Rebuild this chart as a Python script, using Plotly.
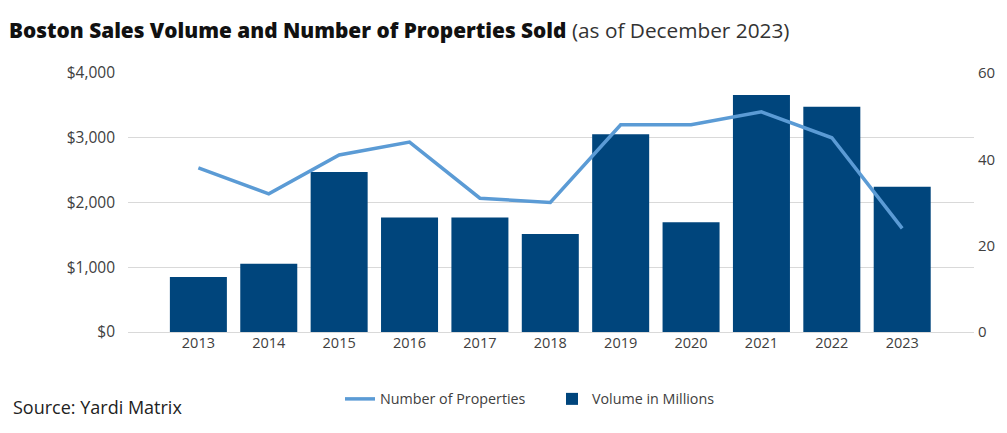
import plotly.graph_objects as go

years = ["2013", "2014", "2015", "2016", "2017", "2018", "2019", "2020", "2021", "2022", "2023"]
volume_millions = [850, 1055, 2470, 1770, 1770, 1515, 3055, 1695, 3660, 3480, 2245]
num_properties = [38, 32, 41, 44, 31, 30, 48, 48, 51, 45, 24]
left_ticks = [0, 1000, 2000, 3000, 4000]
left_tick_text = ["$0", "$1,000", "$2,000", "$3,000", "$4,000"]
right_ticks = [0, 20, 40, 60]

BAR = "#00457C"
LINE = "#5B9BD5"
FONT = "'Open Sans', Lato, sans-serif"

fig = go.Figure()
fig.add_trace(go.Bar(
    x=years, y=volume_millions, name="Volume in Millions",
    marker=dict(color=BAR, line=dict(width=0)), yaxis="y", legendrank=2,
))
fig.add_trace(go.Scatter(
    x=years, y=num_properties, name="Number of Properties", mode="lines",
    line=dict(color=LINE, width=3.5), yaxis="y2", legendrank=1,
))

fig.update_layout(
    width=1007, height=433,
    margin=dict(l=128, r=29, t=73, b=101),
    paper_bgcolor="white", plot_bgcolor="white",
    font=dict(family=FONT, size=14, color="#404040"),
    bargap=0.19,
    xaxis=dict(
        type="category", range=[-1.0, 11.02], showgrid=False, showline=False,
        ticks="", tickfont=dict(size=14.5, color="#404040"),
    ),
    yaxis=dict(
        range=[0, 4000], tickvals=left_ticks, ticktext=left_tick_text,
        showgrid=True, gridcolor="#d9d9d9", gridwidth=1.2,
        zeroline=True, zerolinecolor="#d9d9d9", zerolinewidth=1.2,
        showline=False, ticks="", ticklabelstandoff=12,
        tickfont=dict(size=15.5, color="#404040"),
    ),
    yaxis2=dict(
        range=[0, 60], tickvals=right_ticks, overlaying="y", side="right",
        showgrid=False, zeroline=False, showline=False, ticks="",
        ticklabelstandoff=3, tickfont=dict(size=15, color="#404040"),
    ),
    legend=dict(
        orientation="h", x=(341 - 128) / 850, xanchor="left", y=-0.259, yanchor="middle",
        font=dict(size=14.3, color="#404040"), itemwidth=30, tracegroupgap=0,
        traceorder="normal", entrywidth=167, entrywidthmode="pixels",
    ),
    showlegend=True,
    annotations=[
        dict(
            text="<span style='font-weight:800'>Boston Sales Volume and Number of Properties Sold</span> "
                 "<span style='color:#333333;font-weight:400'>(as of December 2023)</span>",
            xref="paper", yref="paper", x=-122 / 850, y=(332 - 30) / 259,
            xanchor="left", yanchor="middle", showarrow=False,
            font=dict(family=FONT, size=20.8, color="#111111"),
        ),
        dict(
            text="Source: Yardi Matrix",
            xref="paper", yref="paper", x=-118 / 850, y=(332 - 407) / 259,
            xanchor="left", yanchor="middle", showarrow=False,
            font=dict(family=FONT, size=18, color="#222222"),
        ),
    ],
)

fig.write_html("out.html")
